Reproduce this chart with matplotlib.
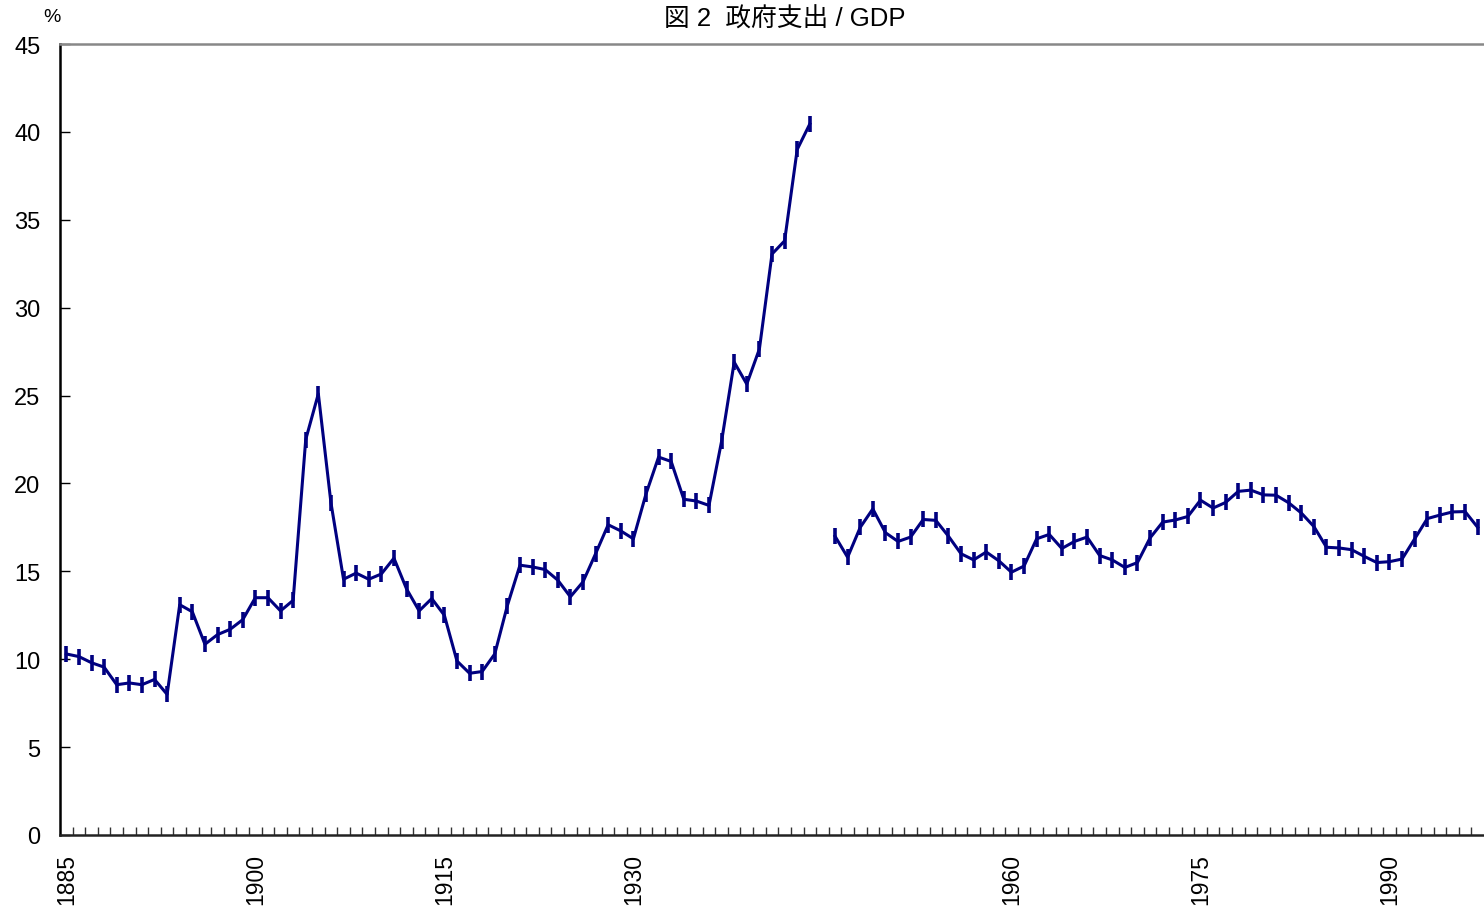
import numpy as np
import matplotlib.pyplot as plt
from matplotlib.ticker import FixedLocator

plt.rcParams['font.family'] = ['Liberation Sans', 'Noto Sans CJK JP', 'DejaVu Sans']

# years on the category axis (1885-1997)
years = list(range(1885, 1998))

# government expenditure / GDP (%); 1945 has no value
prewar = [10.3, 10.15, 9.8, 9.55, 8.55, 8.65, 8.55, 8.85, 8.0, 13.1,
          12.7, 10.85, 11.4, 11.7, 12.25, 13.5, 13.5, 12.75, 13.35, 22.5,
          25.1, 18.9, 14.55, 14.9, 14.55, 14.85, 15.75, 14.0, 12.75, 13.45,
          12.5, 9.9, 9.2, 9.3, 10.3, 13.05, 15.35, 15.25, 15.1, 14.5,
          13.55, 14.4, 16.0, 17.65, 17.3, 16.85, 19.4, 21.5, 21.25, 19.1,
          19.0, 18.75, 22.4, 26.9, 25.65, 27.65, 33.05, 33.8, 39.0, 40.45]
postwar = [17.0, 15.8, 17.5, 18.55, 17.2, 16.7, 16.95, 17.95, 17.9, 17.0,
           16.0, 15.65, 16.1, 15.6, 14.95, 15.3, 16.85, 17.1, 16.3, 16.7,
           16.95, 15.9, 15.65, 15.22, 15.5, 16.9, 17.8, 17.92, 18.12, 19.05,
           18.6, 18.92, 19.55, 19.62, 19.35, 19.33, 18.9, 18.32, 17.55, 16.37,
           16.33, 16.23, 15.85, 15.5, 15.55, 15.7, 16.85, 18.0, 18.2, 18.38,
           18.4, 17.5]
values = prewar + [np.nan] + postwar

label_years = [1885, 1900, 1915, 1930, 1960, 1975, 1990]

fig = plt.figure(figsize=(14.84, 9.12), dpi=100)
ax = fig.add_axes([60 / 1484, 76 / 912, 1424 / 1484, 791 / 912])

x = np.arange(len(years))
ax.plot(x, values, color='#000080', linewidth=2.2, marker='|',
        markersize=11, markeredgewidth=2.6)

ax.set_xlim(-0.5, len(years) - 0.5)
ax.set_ylim(0, 45)
ax.set_yticks(range(0, 46, 5))

pos = [years.index(y) for y in label_years]
ax.set_xticks(pos)
ax.set_xticklabels([str(y) for y in label_years], rotation=90)
ax.xaxis.set_minor_locator(FixedLocator(np.arange(0.5, len(years) - 0.5, 1)))
ax.tick_params(axis='x', which='major', length=0, pad=13, labelsize=16.5)
ax.tick_params(axis='x', which='minor', direction='in', length=6,
               width=1, color='#333333')
ax.tick_params(axis='y', direction='in', length=7, width=1,
               labelsize=17, pad=14)

ax.spines['left'].set_linewidth(1.8)
ax.spines['left'].set_color('black')
ax.spines['bottom'].set_linewidth(1.8)
ax.spines['bottom'].set_color('#222222')
ax.spines['top'].set_linewidth(1.8)
ax.spines['top'].set_color('#888888')
ax.spines['right'].set_visible(False)

fig.text(785 / 1484, 1 - 19 / 912, '図 2  政府支出 / GDP', ha='center', va='center',
         fontsize=18.5)
fig.text(52 / 1484, 1 - 18 / 912, '%', ha='center', va='center', fontsize=14)

fig.savefig('out.png', dpi=100)
